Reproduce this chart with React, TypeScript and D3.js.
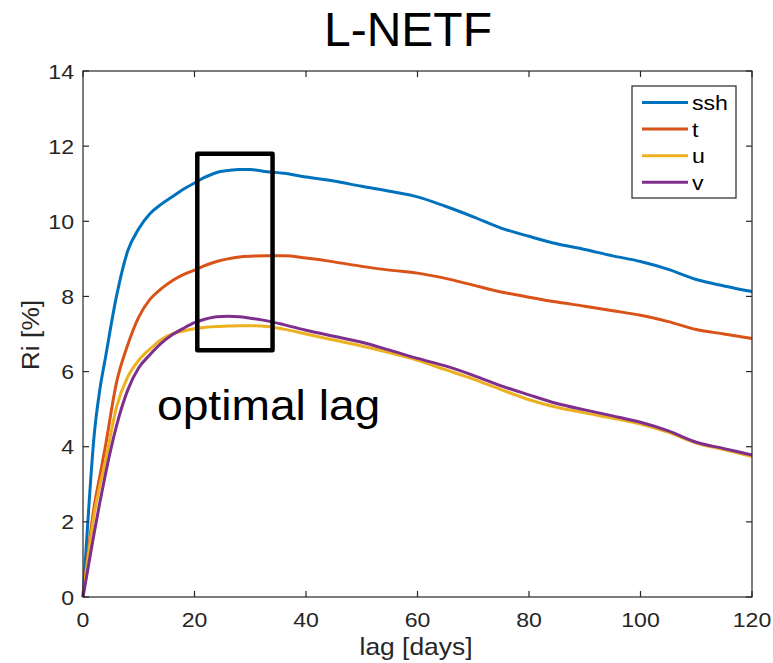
import React from "react";
import * as d3 from "d3";

const lagDays = [0, 1, 2, 3, 4, 6, 8, 10, 12, 14, 16, 18, 20, 22, 24, 26, 28, 30, 33, 36, 40, 45, 50, 55, 60, 65, 70, 75, 80, 85, 90, 95, 100, 105, 110, 115, 120];

const sshValues = [0, 2.3, 4.3, 5.5, 6.35, 8.0, 9.2, 9.8, 10.2, 10.45, 10.65, 10.85, 11.02, 11.18, 11.3, 11.35, 11.38, 11.38, 11.32, 11.28, 11.18, 11.07, 10.93, 10.8, 10.65, 10.4, 10.12, 9.82, 9.6, 9.4, 9.25, 9.08, 8.93, 8.72, 8.45, 8.28, 8.13];
const tValues = [0, 1.3, 2.4, 3.2, 4.0, 5.7, 6.7, 7.45, 7.92, 8.2, 8.42, 8.58, 8.7, 8.83, 8.93, 9.0, 9.05, 9.07, 9.08, 9.08, 9.02, 8.92, 8.8, 8.7, 8.62, 8.48, 8.3, 8.12, 7.98, 7.85, 7.74, 7.62, 7.5, 7.33, 7.12, 7.0, 6.88];
const uValues = [0, 1.15, 2.2, 2.95, 3.6, 5.05, 5.85, 6.3, 6.6, 6.85, 7.0, 7.08, 7.14, 7.18, 7.2, 7.21, 7.22, 7.22, 7.2, 7.13, 7.0, 6.84, 6.68, 6.5, 6.3, 6.05, 5.8, 5.52, 5.25, 5.05, 4.9, 4.76, 4.6, 4.38, 4.1, 3.92, 3.74];
const vValues = [0, 0.85, 1.7, 2.5, 3.25, 4.55, 5.5, 6.1, 6.45, 6.75, 6.98, 7.15, 7.3, 7.4, 7.46, 7.47, 7.46, 7.42, 7.35, 7.25, 7.1, 6.94, 6.78, 6.57, 6.35, 6.15, 5.9, 5.62, 5.38, 5.15, 4.98, 4.82, 4.65, 4.42, 4.12, 3.95, 3.78];

const seriesNames = ["ssh", "t", "u", "v"];
const seriesColors = ["#0072BD", "#D95319", "#EDB120", "#7E2F8E"];
const seriesValues = [sshValues, tValues, uValues, vValues];

const xTicks = [0, 20, 40, 60, 80, 100, 120];
const yTicks = [0, 2, 4, 6, 8, 10, 12, 14];

// annotation box (data units): lag range and Ri range
const boxLag = [20.5, 34];
const boxRi = [6.57, 11.8];

const W = 773;
const H = 663;
const plot = { left: 83, right: 752, top: 71, bottom: 597 };
const FONT = "'Liberation Sans', Arial, Helvetica, sans-serif";
const AX = "#262626";
const SX = 1.1;

function T(props: {
  x: number;
  y: number;
  size: number;
  anchor?: string;
  fill?: string;
  rotate?: number;
  children: React.ReactNode;
}) {
  const { x, y, size, anchor = "start", fill = AX, rotate = 0, children } = props;
  return (
    <text
      transform={`translate(${x},${y}) rotate(${rotate}) scale(${SX},1)`}
      textAnchor={anchor}
      fontSize={size}
      fill={fill}
    >
      {children}
    </text>
  );
}

export default function App() {
  const x = d3.scaleLinear().domain([0, 120]).range([plot.left, plot.right]);
  const y = d3.scaleLinear().domain([0, 14]).range([plot.bottom, plot.top]);
  const line = d3
    .line<number>()
    .x((_, i) => x(lagDays[i]))
    .y((d) => y(d))
    .curve(d3.curveMonotoneX);

  const tick = 6;
  const legend = { x0: 632, y0: 86, w: 104, h: 112, row: 26.6 };

  return (
    <svg
      width={W}
      height={H}
      style={{ position: "absolute", left: 0, top: 0, background: "#fff" }}
      fontFamily={FONT}
    >
      <rect x={0} y={0} width={W} height={H} fill="#fff" />
      {/* title */}
      <text x={408} y={46} textAnchor="middle" fontSize={48} fill="#000">
        L-NETF
      </text>

      {/* series */}
      {seriesValues.map((vals, i) => (
        <path
          key={seriesNames[i]}
          d={line(vals) || ""}
          fill="none"
          stroke={seriesColors[i]}
          strokeWidth={3}
          strokeLinejoin="round"
        />
      ))}

      {/* axes box */}
      <rect
        x={plot.left}
        y={plot.top}
        width={plot.right - plot.left}
        height={plot.bottom - plot.top}
        fill="none"
        stroke={AX}
        strokeWidth={1.2}
      />
      {xTicks.map((t) => (
        <g key={"x" + t}>
          <line x1={x(t)} x2={x(t)} y1={plot.bottom} y2={plot.bottom - tick} stroke={AX} strokeWidth={1.2} />
          <line x1={x(t)} x2={x(t)} y1={plot.top} y2={plot.top + tick} stroke={AX} strokeWidth={1.2} />
          <T x={x(t)} y={627} size={21} anchor="middle">
            {t}
          </T>
        </g>
      ))}
      {yTicks.map((t) => (
        <g key={"y" + t}>
          <line x1={plot.left} x2={plot.left + tick} y1={y(t)} y2={y(t)} stroke={AX} strokeWidth={1.2} />
          <line x1={plot.right} x2={plot.right - tick} y1={y(t)} y2={y(t)} stroke={AX} strokeWidth={1.2} />
          <T x={74} y={y(t) + 7.5} size={21} anchor="end">
            {t}
          </T>
        </g>
      ))}

      {/* axis labels */}
      <T x={416} y={655} size={24} anchor="middle">
        lag [days]
      </T>
      <T x={39} y={335} size={24} anchor="middle" rotate={-90}>
        Ri [%]
      </T>

      {/* annotation */}
      <rect
        x={x(boxLag[0])}
        y={y(boxRi[1])}
        width={x(boxLag[1]) - x(boxLag[0])}
        height={y(boxRi[0]) - y(boxRi[1])}
        fill="none"
        stroke="#000"
        strokeWidth={4.5}
        strokeLinejoin="round"
      />
      <T x={157} y={420} size={42} fill="#000">
        optimal lag
      </T>

      {/* legend */}
      <rect
        x={legend.x0}
        y={legend.y0}
        width={legend.w}
        height={legend.h}
        fill="#fff"
        stroke={AX}
        strokeWidth={1.2}
      />
      {seriesNames.map((n, i) => {
        const yy = legend.y0 + 16.5 + i * legend.row;
        return (
          <g key={"lg" + n}>
            <line x1={642} x2={688} y1={yy} y2={yy} stroke={seriesColors[i]} strokeWidth={3} />
            <T x={692} y={yy + 7.5} size={21} fill="#000">
              {n}
            </T>
          </g>
        );
      })}
    </svg>
  );
}
